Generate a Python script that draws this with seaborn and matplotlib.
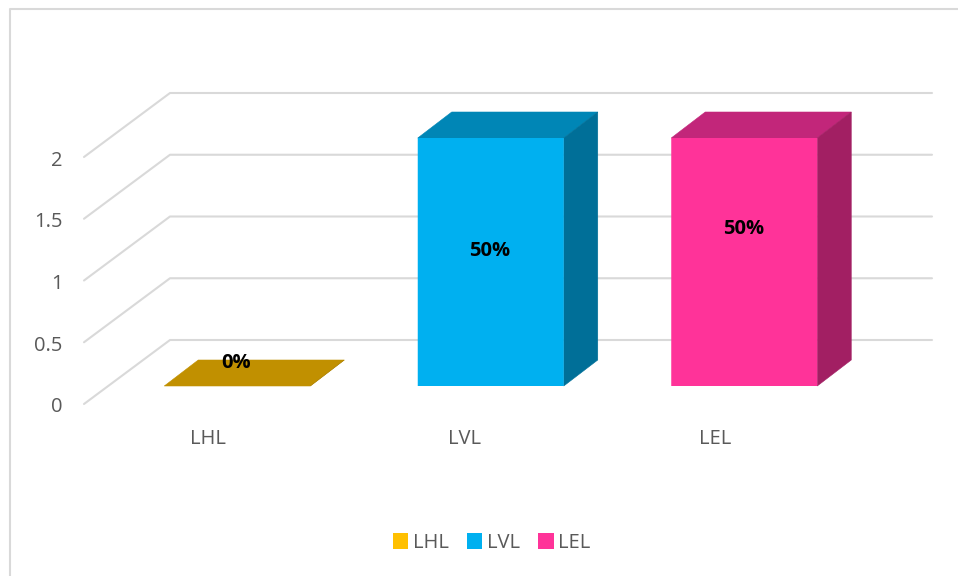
import matplotlib
matplotlib.use('Agg')
import matplotlib.pyplot as plt
import seaborn as sns
import pandas as pd
from matplotlib.lines import Line2D
from matplotlib.patches import Polygon
from matplotlib.transforms import Affine2D, IdentityTransform

# data
categories = ['LHL', 'LVL', 'LEL']
values = [0, 2, 2]
value_labels = ['0%', '50%', '50%']
y_ticks = [0, 0.5, 1, 1.5, 2]
y_tick_labels = ['0', '0.5', '1', '1.5', '2']

# colours
front_colors = ['#FFC000', '#00B0F0', '#FF3399']
top_colors = ['#C19000', '#0086B6', '#C2267A']
side_colors = ['#A67C00', '#006F98', '#A21F63']
grid_color = '#D9D9D9'
text_color = '#595959'

W, H = 958, 576
wall_shift = (86, 64)     # front plane -> back wall, pixels
bar_shift = (26.5, 18)    # front plane -> bar front face
bar_depth = (34, 26)      # depth of a bar
label_drop = [-23, 113, 91]   # label centre, pixels below the bar top
xlabel_nudge = [-3, 0, -3.5]

sns.set_theme(style='white')
plt.rcParams['font.family'] = ['Open Sans', 'DejaVu Sans']

fig = plt.figure(figsize=(W / 100, H / 100), dpi=100)
rect = [84 / W, (H - 404) / H, 762 / W, 247 / H]
ax = fig.add_axes(rect)
ax.set_xlim(-0.5, 2.5)
ax.set_ylim(0, 2)
ax.set_xticks(range(3), categories)
ax.set_yticks(y_ticks, y_tick_labels)
ax.tick_params(axis='x', length=0, pad=18, labelsize=14.5, labelcolor=text_color)
ax.tick_params(axis='y', length=0, pad=15.5, labelsize=14.5, labelcolor=text_color)
sns.despine(ax=ax, left=True, bottom=True)
for lab in ax.get_yticklabels():
    lab.set_transform(lab.get_transform() + Affine2D().translate(0, -1))
for lab, nudge in zip(ax.get_xticklabels(), xlabel_nudge):
    lab.set_transform(lab.get_transform() + Affine2D().translate(nudge, 0))

# walls
for v in y_ticks:
    x0, y0 = ax.transData.transform((-0.5, v))
    x1, y1 = ax.transData.transform((2.5, v))
    ax.add_line(Line2D([x0, x0 + wall_shift[0], x1 + wall_shift[0]],
                       [y0, y0 + wall_shift[1], y1 + wall_shift[1]],
                       color=grid_color, lw=1.5, clip_on=False,
                       transform=IdentityTransform()))

# bars
df = pd.DataFrame({'cat': categories, 'val': values})
ax_bar = fig.add_axes([(84 + bar_shift[0]) / W, (H - 404 + bar_shift[1]) / H, 760.5 / W, 248 / H],
                      facecolor='none')
sns.barplot(data=df, x='cat', y='val', hue='cat', palette=front_colors, width=146 / 253.5,
            saturation=1, dodge=False, legend=True, linewidth=0, ax=ax_bar)
ax_bar.set_xlim(-0.5, 2.5)
ax_bar.set_ylim(0, 2)
ax_bar.axis('off')

for i, bar in enumerate(ax_bar.patches[:3]):
    bar.set_snap(False)
    bar.set_edgecolor('none')
    xa, ya = ax_bar.transData.transform((bar.get_x(), bar.get_height()))
    xb, yb = ax_bar.transData.transform((bar.get_x() + bar.get_width(), 0))
    dx, dy = bar_depth
    top = [(xa, ya), (xb, ya), (xb + dx, ya + dy), (xa + dx, ya + dy)]
    side = [(xb, yb), (xb + dx, yb + dy), (xb + dx, ya + dy), (xb, ya)]
    # thin edge in the face colour closes the seam against the front face
    ax_bar.add_patch(Polygon(top, color=top_colors[i], lw=0.4, clip_on=False,
                             transform=IdentityTransform(), zorder=0.5))
    ax_bar.add_patch(Polygon(side, color=side_colors[i], lw=0.4, clip_on=False,
                             transform=IdentityTransform(), zorder=0.5))
    # label, moved by hand as in the original
    ax_bar.text(i, bar.get_height(), value_labels[i], color='black', fontsize=14.5,
                fontweight='bold', ha='center', va='center', zorder=5,
                transform=ax_bar.transData + Affine2D().translate(-1, -label_drop[i]))

sns.move_legend(ax_bar, 'center', bbox_to_anchor=(491.5 / W, (H - 543) / H),
                bbox_transform=fig.transFigure, ncol=3, frameon=False, title=None,
                fontsize=14.5, labelcolor=text_color, handlelength=0.78, handleheight=0.78,
                handletextpad=0.22, columnspacing=0.9)

# outer frame, left and top only
fig.add_artist(Line2D([9.5 / W, 9.5 / W, 1], [0, (H - 9) / H, (H - 9) / H],
                      color=grid_color, lw=1.5))

fig.savefig('out.png', dpi=100)
